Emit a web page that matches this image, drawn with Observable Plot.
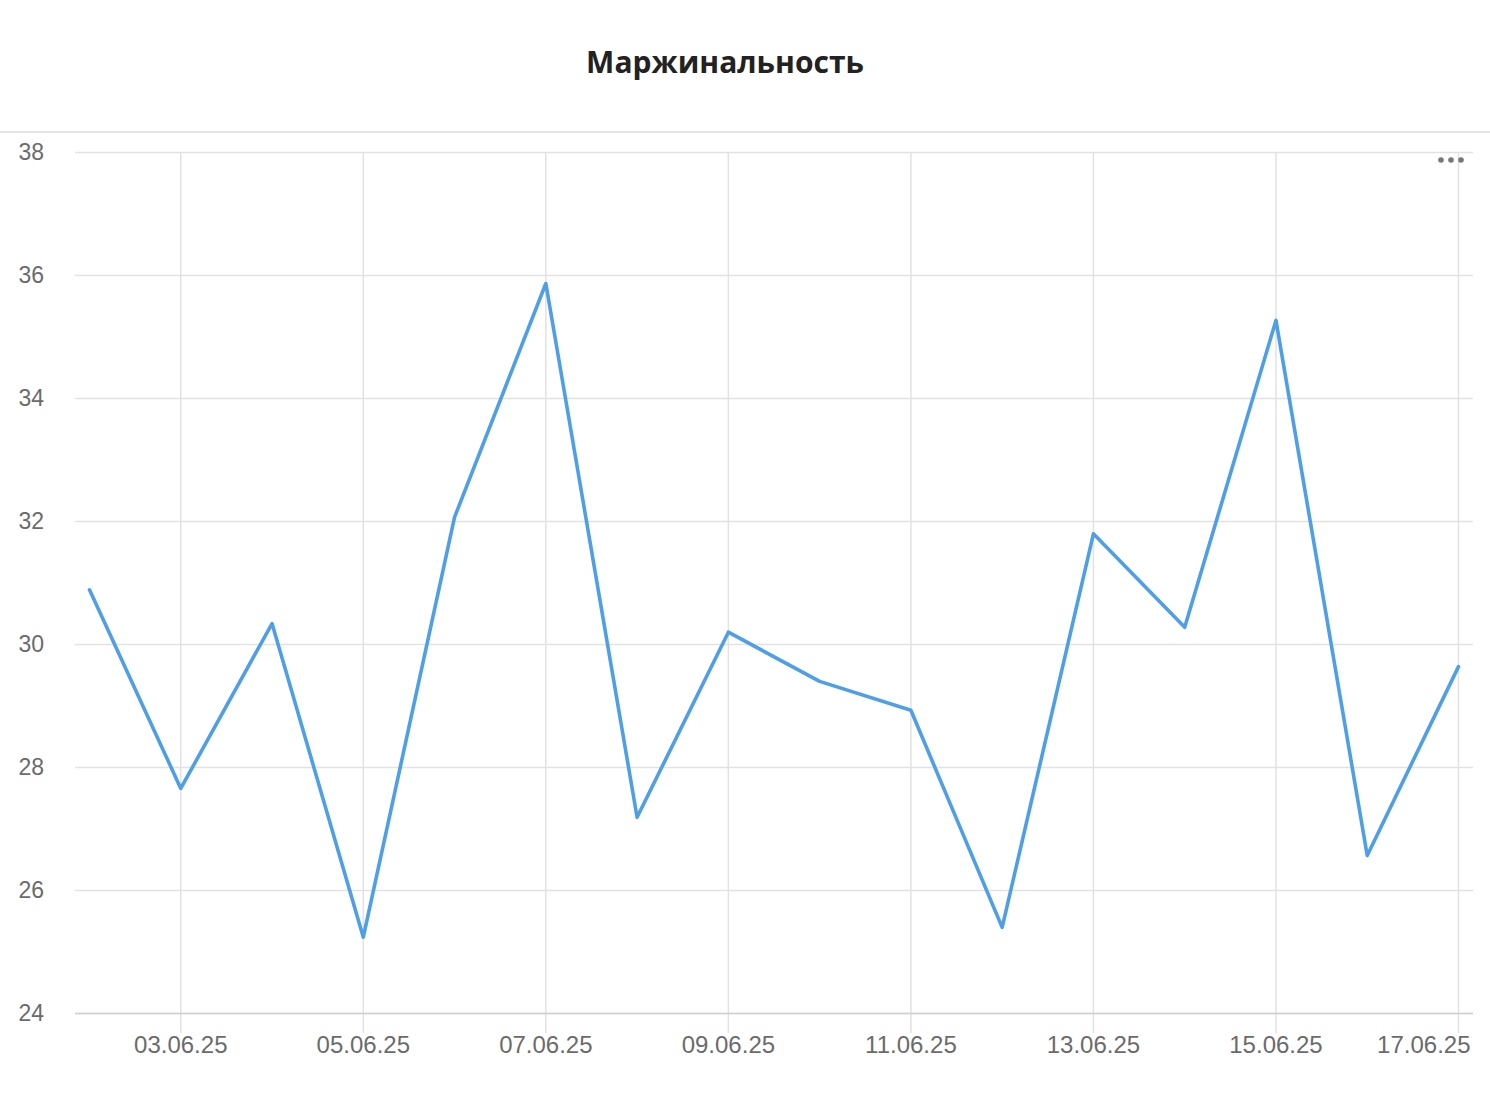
<!DOCTYPE html>
<html>
<head>
<meta charset="utf-8">
<script src="https://cdn.jsdelivr.net/npm/d3@7"></script>
<script src="https://cdn.jsdelivr.net/npm/@observablehq/plot@0.6"></script>
<style>
  html, body { margin: 0; padding: 0; background: #fff; }
  #wrap { position: relative; width: 1490px; }
  #title { height: 133px; border-bottom: 2px solid #e3e3e3; box-sizing: border-box;
    font-family: "Open Sans", sans-serif; font-weight: 700; font-size: 30px; color: #222;
    display: flex; align-items: center; justify-content: center; padding-right: 40px; }
  #title span { position: relative; top: -4px; }
  #dots { position: absolute; left: 1436px; top: 156px; }
</style>
</head>
<body>
<div id="wrap">
  <div id="title"><span>Маржинальность</span></div>
  <div id="chart"></div>
  <svg id="dots" width="30" height="10"><g fill="#777"><circle cx="5" cy="4" r="2.8"/><circle cx="15" cy="4" r="2.8"/><circle cx="25" cy="4" r="2.8"/></g></svg>
</div>
<script>
const dates = ["2025-06-02","2025-06-03","2025-06-04","2025-06-05","2025-06-06","2025-06-07","2025-06-08","2025-06-09",
               "2025-06-10","2025-06-11","2025-06-12","2025-06-13","2025-06-14","2025-06-15","2025-06-16","2025-06-17"];
const margins = [30.89, 27.66, 30.34, 25.24, 32.07, 35.87, 27.19, 30.20,
                 29.40, 28.93, 25.40, 31.80, 30.28, 35.27, 26.57, 29.64];
const xTickDates = ["2025-06-03","2025-06-05","2025-06-07","2025-06-09","2025-06-11","2025-06-13","2025-06-15","2025-06-17"];
const xTickLabels = ["03.06.25","05.06.25","07.06.25","09.06.25","11.06.25","13.06.25","15.06.25","17.06.25"];
const yTicks = [24, 26, 28, 30, 32, 34, 36, 38];

const data = dates.map((d, i) => ({date: new Date(d), value: margins[i]}));
const xt = xTickDates.map((d, i) => ({date: new Date(d), label: xTickLabels[i]}));
const xtMain = xt.slice(0, -1);
const xtLast = xt.slice(-1);

const font = "Liberation Sans, Arial, sans-serif";
const grid = "#e2e2e2";
const labelColor = "#6b6b6b";

const chart = Plot.plot({
  width: 1490,
  height: 977,
  marginTop: 19,
  marginBottom: 97,
  marginLeft: 75,
  marginRight: 17,
  style: {fontFamily: font, fontSize: "23px", color: labelColor, background: "#fff"},
  x: {type: "utc", domain: [new Date(dates[0]), new Date(dates[dates.length - 1])], insetLeft: 14, insetRight: 15, axis: null},
  y: {domain: [24, 38], axis: null},
  marks: [
    Plot.ruleY(yTicks, {y: d => d, stroke: grid, strokeWidth: 1.5}),
    Plot.axisX(xt.map(d => d.date), {tickSize: 20, tickFormat: () => "", stroke: grid, strokeWidth: 1.5, strokeOpacity: 1}),
    Plot.gridX(xt.map(d => d.date), {stroke: grid, strokeWidth: 1.5, strokeOpacity: 1}),
    Plot.ruleY([24], {stroke: "#cfcfcf", strokeWidth: 1.5}),
    Plot.text(yTicks, {y: d => d, text: d => String(d), frameAnchor: "left", textAnchor: "start", dx: -57, fill: labelColor, fontSize: 23}),
    Plot.text(xtMain, {x: "date", text: "label", frameAnchor: "bottom", dy: 39, fill: labelColor, fontSize: 24}),
    Plot.text(xtLast, {x: "date", text: "label", frameAnchor: "bottom", dy: 39, dx: 12, textAnchor: "end", fill: labelColor, fontSize: 24}),
    Plot.line(data, {x: "date", y: "value", stroke: "#4f9fe6", strokeWidth: 3.6})
  ]
});
document.getElementById("chart").appendChild(chart);
</script>
</body>
</html>
